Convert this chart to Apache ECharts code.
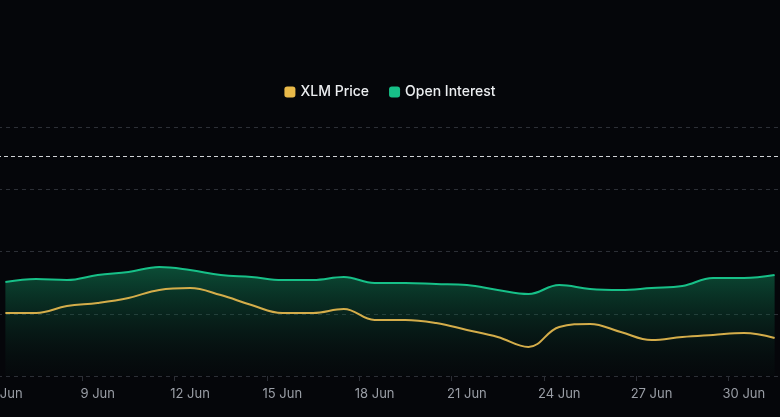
<!DOCTYPE html>
<html lang="en">
<head>
    <title>xlm</title>
    <meta charset="utf-8">
</head>
<body style="margin:0;background:#05060a">
<script type="text/javascript" src="https://cdn.jsdelivr.net/npm/echarts@6/dist/echarts.min.js"></script>
<div id="main" style="width: 780px;height: 417px"></div>
<script type="text/javascript">
    var days = [];
    for (var d = 6; d <= 30; d++) days.push(d + ' Jun');
    days.push('1 Jul');
    // open interest (M) and price ($)
    var openInterest = [151.0, 155.8, 154.2, 162.2, 167.1, 175.1, 170.3, 162.2, 159.0, 154.2, 154.2, 159.0, 149.4,
        149.4, 147.8, 146.2, 138.2, 131.7, 146.2, 139.8, 138.2, 141.4, 144.6, 157.4, 157.4, 162.2];
    var price = [0.2304, 0.2304, 0.2337, 0.2352, 0.2376, 0.2415, 0.2424, 0.2390, 0.2342, 0.2304, 0.2304, 0.2323, 0.2270,
        0.2270, 0.2255, 0.2222, 0.2188, 0.2140, 0.2236, 0.2251, 0.2212, 0.2173, 0.2188, 0.2198, 0.2207, 0.2183];

    var myChart = echarts.init(document.getElementById('main'));
    var option = {
        backgroundColor: '#05060a',
        animation: false,
        legend: {
            top: 80, left: 'center',
            itemWidth: 11, itemHeight: 11, itemGap: 20,
            icon: 'roundRect',
            textStyle: {color: '#eceef1', fontSize: 14, fontWeight: 500, fontFamily: 'Inter'},
            data: ['XLM Price', 'Open Interest']
        },
        grid: {left: -10, right: -10, top: 127, bottom: 41, containLabel: false, outerBoundsMode: 'none'},
        xAxis: {
            type: 'category',
            data: days,
            boundaryGap: true,
            axisLine: {show: false},
            axisTick: {show: true, interval: 2, length: 5, lineStyle: {color: '#2c2f36'}},
            axisLabel: {interval: 2, color: '#9a9ea6', fontSize: 13, fontFamily: 'Inter', margin: 12}
        },
        yAxis: [{
            type: 'value', min: 0, max: 400, interval: 100,
            axisLabel: {show: false}, axisLine: {show: false}, axisTick: {show: false},
            splitLine: {lineStyle: {color: '#2c2f36', type: [4, 4]}}
        }, {
            type: 'value', min: 0.20, max: 0.32, interval: 0.03,
            axisLabel: {show: false}, axisLine: {show: false}, axisTick: {show: false},
            splitLine: {show: false}
        }],
        series: [{
            name: 'Open Interest',
            type: 'line',
            yAxisIndex: 0,
            smooth: 0.4,
            symbol: 'none',
            data: openInterest,
            itemStyle: {color: '#17c088'},
            lineStyle: {color: '#17c088', width: 2},
            areaStyle: {
                color: new echarts.graphic.LinearGradient(0, 0, 0, 1, [
                    {offset: 0, color: 'rgba(18,150,100,0.7)'},
                    {offset: 1, color: 'rgba(10,40,30,0.1)'}
                ])
            },
            markLine: {
                silent: true, symbol: 'none', label: {show: false},
                lineStyle: {color: '#d0d2d6', type: [4, 3], width: 1},
                data: [{yAxis: 353}]
            },
            z: 2
        }, {
            name: 'XLM Price',
            type: 'line',
            yAxisIndex: 1,
            smooth: 0.4,
            symbol: 'none',
            data: price,
            itemStyle: {color: '#e9b949'},
            lineStyle: {color: '#d4ad4a', width: 2},
            z: 3
        }]
    };
    myChart.setOption(option);
</script>
</body>
</html>
